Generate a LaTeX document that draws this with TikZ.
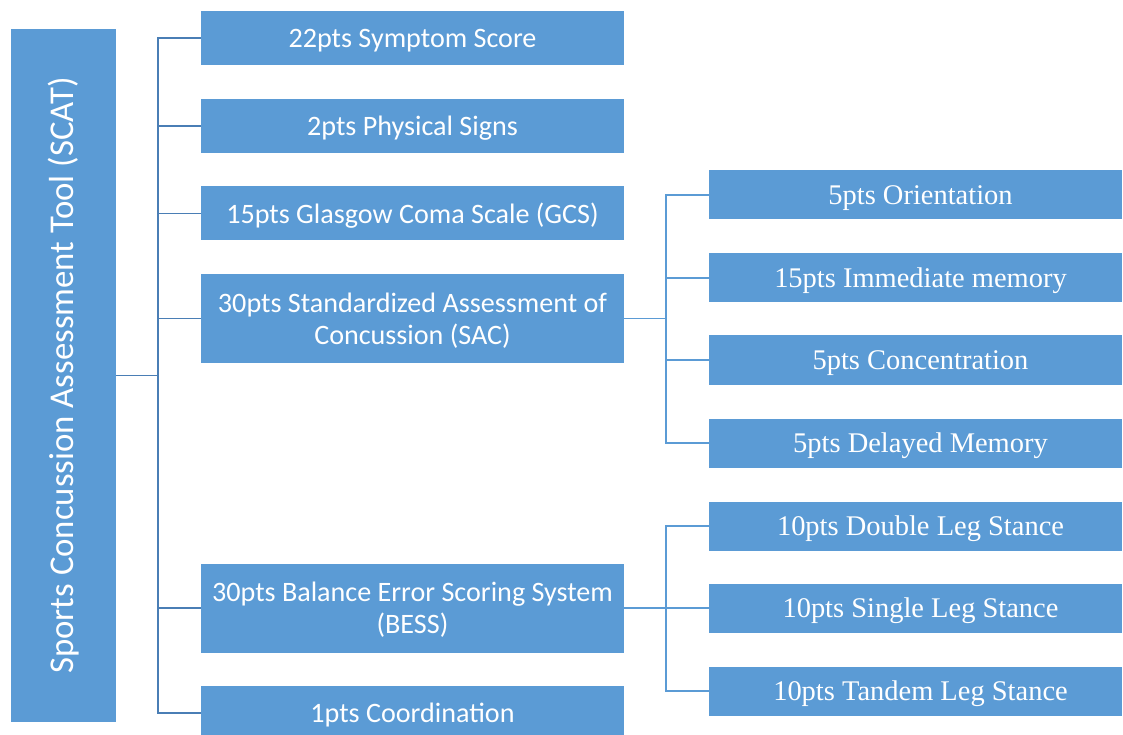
\documentclass[tikz,border=0pt]{standalone}
\usepackage{fontspec}
\setmainfont{Liberation Serif}
\newfontfamily\calib{Carlito}
\usetikzlibrary{positioning}

\definecolor{boxblue}{HTML}{5B9BD5}
\definecolor{linkdark}{HTML}{4A7EB5}

\begin{document}
\begin{tikzpicture}[node distance=1.75cm,
    every node/.style={text=white}, align=center]
		\tikzset{%
  % Specifications for style of nodes:
            root/.style = {rectangle, fill=boxblue, inner sep=0pt,
                           minimum width=13.86cm, minimum height=2.1cm,
                           font=\calib\fontsize{19.8}{24}\selectfont},
       part/.style = {rectangle, fill=boxblue, inner sep=0pt,
                           minimum width=8.46cm, minimum height=1.08cm,
                           text depth=0pt,
                           font=\calib\fontsize{16}{18}\selectfont},
       sub/.style = {rectangle, fill=boxblue, inner sep=0pt,
                           minimum width=8.26cm, minimum height=0.98cm,
                           text depth=0pt,
                           execute at begin node=\hspace*{0.2cm},
                           font=\fontsize{16.2}{19}\selectfont},
       link/.style = {draw=linkdark, line width=1.1pt},
       sublink/.style = {draw=boxblue, line width=1.1pt},
}
  \useasboundingbox (0,0) rectangle (22.46,-14.7);
  % Specification of nodes (position, etc.)

  \node (scat) [root, rotate=90] at (1.27,-7.51) {Sports Concussion Assessment Tool (SCAT)};

  \node (sym) [part] at (8.25,-0.76) {22pts Symptom Score};
  \node (phys) [part, below of=sym, yshift=-0.01cm] {2pts Physical Signs};
  \node (gcs) [part, below of=phys] {15pts Glasgow Coma Scale (GCS)};
  \node (sac) [part, below of=gcs, yshift=-0.35cm, minimum height=1.78cm] {30pts Standardized Assessment of\\Concussion (SAC)};
  \node (bess) [part, at={(8.25,-12.16)}, minimum height=1.78cm] {30pts Balance Error Scoring System\\(BESS)};
  \node (coord) [part, below of=bess, yshift=-0.35cm] {1pts Coordination};

  \node (orient) [sub] at (18.31,-3.9) {5pts Orientation};
  \node (immem) [sub, below of=orient, yshift=0.09cm] {15pts Immediate memory};
  \node (conc) [sub, below of=immem, yshift=0.11cm] {5pts Concentration};
  \node (delmem) [sub, below of=conc, yshift=0.09cm] {5pts Delayed Memory};
  \node (dleg) [sub, below of=delmem, yshift=0.09cm] {10pts Double Leg Stance};
  \node (sleg) [sub, below of=dleg, yshift=0.11cm] {10pts Single Leg Stance};
  \node (tleg) [sub, below of=sleg, yshift=0.09cm] {10pts Tandem Leg Stance};

  % Specification of lines between nodes specified above
\draw[link] (scat.south) -- ++(0.84,0) coordinate (trunk);
\foreach \n in {sym,phys,gcs,sac,bess,coord}
  \draw[link] (trunk) |- (\n.west);

\draw[sublink] (sac.east) -- ++(0.84,0) coordinate (sacjoin);
\foreach \n in {orient,immem,conc,delmem}
  \draw[sublink] (sacjoin) |- (\n.west);

\draw[sublink] (bess.east) -- ++(0.84,0) coordinate (bessjoin);
\foreach \n in {dleg,sleg,tleg}
  \draw[sublink] (bessjoin) |- (\n.west);

  \end{tikzpicture}
\end{document}
